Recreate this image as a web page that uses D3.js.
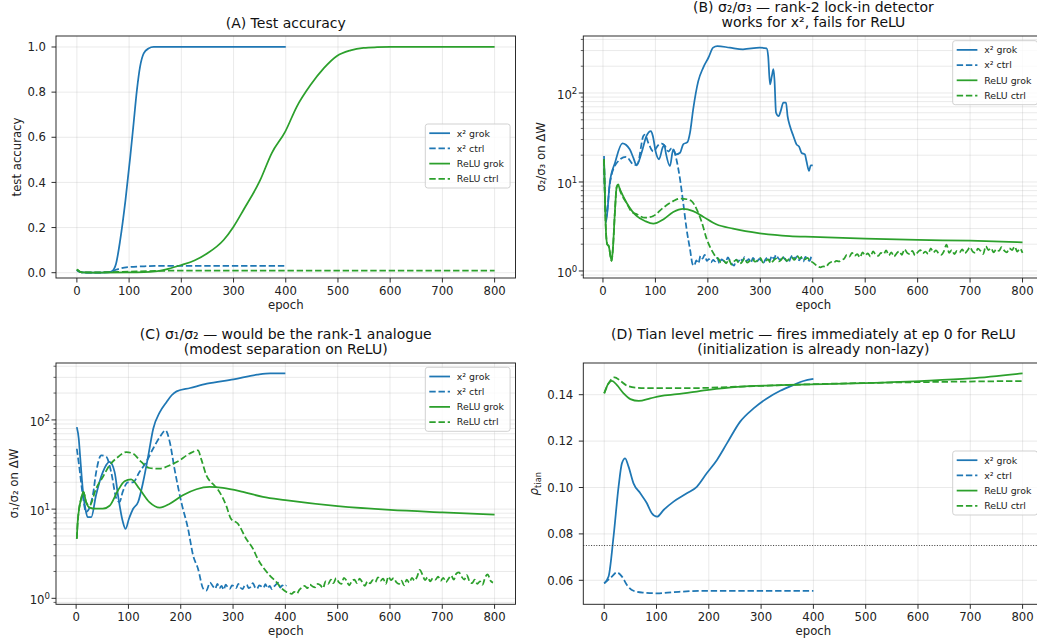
<!DOCTYPE html>
<html lang="en">
<head>
<meta charset="UTF-8">
<title>grokking diagnostics</title>
<script src="https://d3js.org/d3.v7.min.js"></script>
<style>
    body { margin: 0; padding: 0; background: #fff; }
    svg { display: block; font-family: "DejaVu Sans", sans-serif; }
</style>
</head>
<body>
<svg id="chart" width="1037" height="644"></svg>
<script>
    const BLUE = "#1f77b4", GREEN = "#2ca02c";
    const seriesNames = ["x² grok", "x² ctrl", "ReLU grok", "ReLU ctrl"];
    const xTicks = [0, 100, 200, 300, 400, 500, 600, 700, 800];

    // ---- (A) test accuracy ----
    const epA_x2grok = [0, 5, 10, 30, 60, 67, 75, 83, 93, 102, 108, 115, 121, 128, 137, 147, 200, 300, 400];
    const accA_x2grok = [0.012, 0.004, 0.001, 0.0, 0.001, 0.006, 0.04, 0.145, 0.32, 0.51, 0.647, 0.81, 0.913, 0.972, 0.993, 1.0, 1.0, 1.0, 1.0];
    const epA_x2ctrl = [0, 5, 10, 30, 60, 68, 75, 85, 100, 125, 150, 200, 300, 400];
    const accA_x2ctrl = [0.012, 0.004, 0.001, 0.0, 0.002, 0.006, 0.013, 0.02, 0.025, 0.028, 0.03, 0.03, 0.03, 0.03];
    const epA_relugrok = [0, 5, 10, 50, 100, 150, 175, 200, 225, 250, 281, 300, 319, 351, 373, 399, 421, 447, 473, 498, 524, 549, 575, 600, 700, 800];
    const accA_relugrok = [0.015, 0.005, 0.001, 0.0, 0.001, 0.006, 0.017, 0.034, 0.054, 0.086, 0.145, 0.204, 0.278, 0.41, 0.529, 0.625, 0.735, 0.83, 0.906, 0.96, 0.985, 0.996, 0.999, 1.0, 1.0, 1.0];
    const epA_reluctrl = [0, 5, 10, 50, 100, 150, 200, 400, 600, 800];
    const accA_reluctrl = [0.015, 0.005, 0.001, 0.002, 0.005, 0.008, 0.009, 0.009, 0.009, 0.009];
    const yTicksA = [0, 0.2, 0.4, 0.6, 0.8, 1.0];

    // ---- (B) sigma2/sigma3 ----
    const epB_x2grok = [2, 5.7, 13, 23, 37, 51, 58, 64, 73.6, 83, 91.5, 95, 101, 107, 113.7, 117, 120, 127.7, 134, 139, 147, 153, 161, 166, 172, 181.7, 191, 201, 210, 218, 242, 267, 299, 312, 315, 318.5, 322, 325, 327, 330, 335, 339, 344, 349, 352, 356.5, 363, 369, 374, 378.6, 385, 388, 393, 396, 400];
    const valB_x2grok = [19.6, 3.5, 9.8, 16.5, 27.2, 23.3, 18.7, 15.4, 21.3, 32.9, 37.4, 33, 21.3, 18, 24.3, 26, 21, 15.1, 23.3, 20.4, 21.3, 26.5, 28, 35.8, 65.6, 136, 192, 249, 323, 337, 323, 310, 323, 317, 260, 125, 155, 185, 142, 60, 55, 63, 78, 78, 55, 42.6, 32.9, 26.5, 25, 21.3, 20.4, 17.2, 13.3, 15.4, 15.4];
    const epB_x2ctrl = [2, 6, 13, 25, 44, 60, 66, 77, 80, 87, 96, 105.6, 112, 118, 125, 131, 136, 140, 147, 153, 159.5, 166, 171];
    const valB_x2ctrl = [18, 4, 9.5, 16, 19.2, 15.5, 16, 32.9, 34, 27, 22, 26, 27, 25.5, 22, 24, 22, 18, 10.7, 5.85, 2.94, 1.75, 1.19];
    const tailB_x2ctrl = [1.15, 1.32, 1.22, 1.48, 1.38, 1.52, 1.30, 1.36, 1.25, 1.33, 1.28, 1.40, 1.22, 1.35, 1.30, 1.26, 1.42, 1.31, 1.20, 1.15, 1.34, 1.27, 1.38, 1.30, 1.43, 1.29, 1.36, 1.25, 1.40, 1.32, 1.28, 1.37, 1.30, 1.24, 1.35, 1.42, 1.30, 1.48, 1.36, 1.52, 1.40, 1.33, 1.45, 1.38, 1.30, 1.25, 1.41, 1.50, 1.36, 1.46, 1.32, 1.42, 1.28, 1.44, 1.35, 1.30, 1.55]; // every 4 ep from 174
    const epB_relugrok = [2, 5, 8, 11, 16.5, 19, 23, 26, 29, 32.6, 45, 64, 80, 96, 115, 134, 153, 172, 191, 216, 248, 299, 356, 400, 500, 600, 700, 800];
    const valB_relugrok = [18, 3.5, 2.0, 1.9, 1.3, 1.8, 4.9, 8.6, 9.2, 8.2, 5.85, 4.15, 3.65, 3.4, 3.8, 4.6, 5.0, 4.7, 4.07, 3.35, 2.99, 2.65, 2.47, 2.42, 2.31, 2.23, 2.19, 2.1];
    const epB_reluctrl = [2, 5, 8, 11, 16.5, 19, 23, 26, 29, 32.6, 45, 55, 64, 80, 96, 115, 134, 147, 160, 169, 179, 188.6, 198, 208, 217];
    const valB_reluctrl = [18, 3.5, 2.0, 1.9, 1.3, 1.8, 4.9, 8.8, 9.4, 8.0, 5.8, 4.6, 4.35, 3.97, 4.15, 5.15, 6.1, 6.5, 6.4, 6.1, 4.9, 3.5, 2.27, 1.68, 1.41];
    const tailB_reluctrl = [1.38, 1.25, 1.30, 1.22, 1.35, 1.18, 1.28, 1.33, 1.20, 1.26, 1.38, 1.24, 1.30, 1.36, 1.27, 1.32, 1.40, 1.25, 1.29, 1.35, 1.22, 1.31, 1.38, 1.28, 1.34, 1.45, 1.30, 1.36, 1.42, 1.33, 1.48, 1.38, 1.44, 1.35, 1.40, 1.30, 1.25,
        1.18, 1.12, 1.10, 1.13, 1.11, 1.20, 1.26, 1.24, 1.30, 1.28, 1.33, 1.38, 1.52, 1.45,
        1.60, 1.48, 1.55, 1.42, 1.62, 1.50, 1.58, 1.45, 1.66, 1.52, 1.48, 1.60, 1.55, 1.70, 1.50, 1.62, 1.45, 1.58, 1.66, 1.52, 1.75, 1.60, 1.55, 1.68, 1.50, 1.62, 1.72, 1.58, 1.65, 1.55, 1.80, 1.62, 1.70, 1.58, 1.52, 1.66, 1.98, 1.60, 1.72, 1.55, 1.68, 1.62, 1.75, 1.58, 1.70, 1.85, 1.65, 1.60, 1.78, 1.68, 1.55, 1.90, 1.72, 1.80, 1.62, 1.75, 1.68, 1.85, 1.70, 1.62, 1.80, 1.72, 1.88, 1.65, 1.78, 1.60]; // every 5 ep from 220

    // ---- (C) sigma1/sigma2 ----
    const epC_x2grok = [1.3, 5, 7.5, 12.6, 17.7, 22, 29, 38, 51, 64, 73.6, 80, 89.3, 94.5, 101, 109, 118.5, 128, 138, 147.4, 160, 173, 182.6, 192, 218, 250, 301, 346, 371, 400];
    const valC_x2grok = [83, 61.5, 40, 16.9, 10.1, 8.15, 8.15, 14.3, 26, 33.8, 26, 14.3, 7.2, 6.0, 7.8, 10.1, 12, 20, 40, 79.7, 122, 159, 189, 209, 228, 255, 285, 321, 332, 332];
    const epC_x2ctrl = [1.3, 6.4, 12.6, 19, 31.9, 38.3, 48, 57.5, 67, 77, 83, 89, 99, 108.6, 121, 134, 147, 160, 171, 179, 188, 201, 214, 223.6, 233, 243, 249, 256];
    const valC_x2ctrl = [47.5, 28.4, 14.3, 9.3, 14.3, 26, 40, 38.7, 26, 13.1, 12, 15.6, 20, 20, 26, 33.8, 47.5, 64.3, 76.4, 56.5, 28.4, 12, 6.0, 3.03, 2.15, 1.28, 1.22, 1.5];
    const tailC_x2ctrl = [1.35, 1.28, 1.45, 1.30, 1.38, 1.25, 1.42, 1.33, 1.28, 1.40, 1.36, 1.30, 1.45, 1.32, 1.27, 1.38, 1.42, 1.30, 1.35, 1.48, 1.33, 1.28, 1.40, 1.36, 1.31, 1.44, 1.30, 1.38, 1.27, 1.35, 1.42, 1.50, 1.32, 1.40, 1.36]; // every 4 ep from 262
    const epC_relugrok = [1.3, 3, 9.6, 14, 19, 25.6, 38, 51, 64, 80, 92.6, 105, 121, 140, 160, 179, 204, 230, 255, 280.7, 319, 357, 400, 500, 600, 700, 800];
    const valC_relugrok = [4.66, 7.2, 13.1, 15.6, 12, 10.4, 10.1, 10.1, 10.9, 16.2, 20.5, 21.6, 16.9, 12, 10.4, 11.5, 14.3, 16.7, 17.7, 17.3, 15.6, 13.7, 12.6, 10.8, 9.8, 9.2, 8.7];
    const epC_reluctrl = [1.3, 3, 9.6, 14, 19, 25.6, 38, 51, 64, 80, 96, 108.6, 124.6, 140, 160, 179, 198, 217, 233, 239, 249, 258, 264, 274, 287, 296, 309, 325, 338, 347, 357, 370, 383, 392, 402];
    const valC_reluctrl = [4.66, 7.2, 13.1, 15.6, 12, 10.9, 16.9, 22.9, 31, 38.4, 43.6, 42, 33.8, 28.9, 28.4, 31, 35.3, 42, 45.6, 36.6, 23.9, 20, 18.5, 15.6, 10.9, 7.8, 6.9, 4.66, 3.6, 2.78, 2.24, 1.81, 1.52, 1.31, 1.18];
    const tailC_reluctrl = [1.15, 1.12, 1.18, 1.13, 1.25, 1.32, 1.38, 1.30, 1.42, 1.36, 1.33, 1.45, 1.40, 1.30, 1.55, 1.45, 1.62, 1.48, 1.68, 1.52, 1.45, 1.70, 1.58, 1.40, 1.55, 1.62, 1.48, 1.66, 1.52, 1.38, 1.55, 1.47, 1.60, 1.52, 1.72, 1.58, 1.66, 1.45, 1.75, 1.60, 1.68, 1.52, 1.45, 1.58, 1.40, 1.62, 1.50, 1.70, 1.58, 1.75, 2.08, 1.85, 1.60, 1.72, 1.55, 1.68, 1.62, 1.75, 1.58, 1.70, 1.52, 1.66, 1.80, 1.62, 1.90, 1.95, 1.75, 1.62, 1.82, 1.55, 1.48, 1.62, 1.45, 1.55, 1.42, 1.72, 1.85, 1.58, 1.50]; // every 5 ep from 407

    // ---- (D) Tian level metric ----
    const epD_x2grok = [0, 8.3, 17.8, 27.4, 33.8, 40, 46.5, 56, 69, 81.6, 91, 101, 113.5, 132.6, 158, 177, 196, 215.6, 234.6, 260, 285.6, 311, 336.6, 362, 381, 400];
    const valD_x2grok = [0.0587, 0.0616, 0.0788, 0.1003, 0.1104, 0.1126, 0.109, 0.1018, 0.0975, 0.0932, 0.0889, 0.0874, 0.0903, 0.0939, 0.0975, 0.1003, 0.1061, 0.1119, 0.119, 0.1284, 0.1341, 0.1384, 0.1417, 0.1442, 0.1459, 0.1468];
    const epD_x2ctrl = [0, 14.7, 24, 34, 43.4, 56, 75, 101, 133, 190, 400];
    const valD_x2ctrl = [0.0587, 0.0616, 0.0634, 0.0616, 0.058, 0.0555, 0.0547, 0.0544, 0.0549, 0.0555, 0.0555];
    const epD_relugrok = [0, 8.3, 14.7, 24, 37, 50, 66, 88, 107, 139, 196, 254, 350, 477, 605, 700, 800];
    const valD_relugrok = [0.1406, 0.1449, 0.146, 0.1442, 0.1406, 0.1381, 0.1373, 0.1384, 0.1394, 0.1402, 0.142, 0.1434, 0.1442, 0.1449, 0.1459, 0.147, 0.1492];
    const epD_reluctrl = [0, 10, 20, 30.6, 43.4, 62.5, 94, 158, 285.6, 413, 541, 669, 800];
    const valD_reluctrl = [0.1406, 0.1455, 0.1475, 0.146, 0.1439, 0.143, 0.1428, 0.1428, 0.1437, 0.1446, 0.1452, 0.1456, 0.1459];
    const yTicksD = [0.06, 0.08, 0.10, 0.12, 0.14];
    const thresholdD = 0.075;

    // build [epoch, value] pairs
    const pairs = (ep, vals) => ep.map((e, i) => [e, vals[i]]);
    const withTail = (ep, vals, start, step, tail) =>
        pairs(ep, vals).concat(tail.map((v, i) => [Math.min(start + i * step, 800), v]));

    const panels = [
        {
            id: "A", left: 56, right: 515.5, top: 36, bottom: 278,
            xDomain: [-40, 840], yDomain: [-0.0235, 1.0487], log: false,
            yTicks: yTicksA, yFmt: d3.format(".1f"),
            title: ["(A) Test accuracy"], ylabel: "test accuracy", ylabelX: 20.5,
            legend: [425.3, 124],
            series: [pairs(epA_x2grok, accA_x2grok), pairs(epA_x2ctrl, accA_x2ctrl),
                     pairs(epA_relugrok, accA_relugrok), pairs(epA_reluctrl, accA_reluctrl)]
        },
        {
            id: "B", left: 583.3, right: 1043.5, top: 36, bottom: 278,
            xDomain: [-37.5, 840], yDomain: [0.834, 437], log: true,
            title: ["(B) σ₂/σ₃ — rank-2 lock-in detector", "works for x², fails for ReLU"],
            ylabel: "σ₂/σ₃ on ΔW", ylabelX: 544.5,
            legend: [952.7, 40.7],
            series: [pairs(epB_x2grok, valB_x2grok), withTail(epB_x2ctrl, valB_x2ctrl, 174, 4, tailB_x2ctrl),
                     pairs(epB_relugrok, valB_relugrok), withTail(epB_reluctrl, valB_reluctrl, 220, 5, tailB_reluctrl)]
        },
        {
            id: "C", left: 56, right: 515.5, top: 363, bottom: 604.3,
            xDomain: [-38.5, 840], yDomain: [0.857, 434.5], log: true,
            title: ["(C) σ₁/σ₂ — would be the rank-1 analogue", "(modest separation on ReLU)"],
            ylabel: "σ₁/σ₂ on ΔW", ylabelX: 18,
            legend: [425.3, 367.3],
            series: [pairs(epC_x2grok, valC_x2grok), withTail(epC_x2ctrl, valC_x2ctrl, 262, 4, tailC_x2ctrl.concat([1.4])),
                     pairs(epC_relugrok, valC_relugrok), withTail(epC_reluctrl, valC_reluctrl, 407, 5, tailC_reluctrl)]
        },
        {
            id: "D", left: 583.3, right: 1043.5, top: 363, bottom: 604.3,
            xDomain: [-40, 840], yDomain: [0.04966, 0.15366], log: false,
            yTicks: yTicksD, yFmt: d3.format(".2f"),
            title: ["(D) Tian level metric — fires immediately at ep 0 for ReLU", "(initialization is already non-lazy)"],
            ylabel: null, ylabelX: 538,
            legend: [952.7, 451], hline: thresholdD,
            series: [pairs(epD_x2grok, valD_x2grok), pairs(epD_x2ctrl, valD_x2ctrl),
                     pairs(epD_relugrok, valD_relugrok), pairs(epD_reluctrl, valD_reluctrl)]
        }
    ];

    const styles = [
        { color: BLUE, dash: null }, { color: BLUE, dash: "6.4,2.8" },
        { color: GREEN, dash: null }, { color: GREEN, dash: "6.4,2.8" }
    ];

    const svg = d3.select("#chart");
    svg.append("rect").attr("width", 1037).attr("height", 644).attr("fill", "#fff");
    const defs = svg.append("defs");

    panels.forEach(p => {
        const g = svg.append("g");
        const x = d3.scaleLinear().domain(p.xDomain).range([p.left, p.right]);
        const y = (p.log ? d3.scaleLog() : d3.scaleLinear()).domain(p.yDomain).range([p.bottom, p.top]);

        defs.append("clipPath").attr("id", "clip" + p.id)
            .append("rect").attr("x", p.left).attr("y", p.top)
            .attr("width", p.right - p.left).attr("height", p.bottom - p.top);

        // y ticks: majors and (for log) minors
        let yMajor, yMinor = [];
        if (p.log) {
            const all = y.ticks();
            yMajor = all.filter(v => Math.abs(Math.log10(v) - Math.round(Math.log10(v))) < 1e-9);
            yMinor = all.filter(v => !yMajor.includes(v));
        } else {
            yMajor = p.yTicks;
        }

        // grid
        const grid = g.append("g").attr("stroke", "#b0b0b0").attr("stroke-opacity", 0.3).attr("stroke-width", 0.9);
        grid.selectAll(".gx").data(xTicks).join("line")
            .attr("x1", d => x(d)).attr("x2", d => x(d)).attr("y1", p.top).attr("y2", p.bottom);
        grid.selectAll(".gy").data(yMajor.concat(yMinor)).join("line")
            .attr("x1", p.left).attr("x2", p.right).attr("y1", d => y(d)).attr("y2", d => y(d));

        // series lines
        const line = d3.line().x(d => x(d[0])).y(d => y(d[1])).curve(d3.curveMonotoneX);
        const lines = g.append("g").attr("clip-path", `url(#clip${p.id})`);
        p.series.forEach((s, i) => {
            lines.append("path").datum(s)
                .attr("d", line)
                .attr("fill", "none")
                .attr("stroke", styles[i].color)
                .attr("stroke-width", 1.75)
                .attr("stroke-linejoin", "round")
                .attr("stroke-dasharray", styles[i].dash);
        });

        if (p.hline != null) {
            g.append("line")
                .attr("x1", p.left).attr("x2", p.right)
                .attr("y1", y(p.hline)).attr("y2", y(p.hline))
                .attr("stroke", "#222").attr("stroke-width", 0.9)
                .attr("stroke-dasharray", "1,1.6");
        }

        // spines
        g.append("rect").attr("x", p.left).attr("y", p.top)
            .attr("width", p.right - p.left).attr("height", p.bottom - p.top)
            .attr("fill", "none").attr("stroke", "#222").attr("stroke-width", 0.95);

        // x ticks
        const xt = g.append("g");
        xt.selectAll("line").data(xTicks).join("line")
            .attr("x1", d => x(d)).attr("x2", d => x(d))
            .attr("y1", p.bottom).attr("y2", p.bottom + 4.5)
            .attr("stroke", "#222").attr("stroke-width", 0.95);
        xt.selectAll("text").data(xTicks).join("text")
            .attr("x", d => x(d)).attr("y", p.bottom + 17)
            .attr("text-anchor", "middle").attr("font-size", 11.7).attr("fill", "#222")
            .text(d => d);
        g.append("text").attr("x", (p.left + Math.min(p.right, 1043.5)) / 2).attr("y", p.bottom + 31)
            .attr("text-anchor", "middle").attr("font-size", 11.7).attr("fill", "#222")
            .text("epoch");

        // y ticks
        const yt = g.append("g");
        yt.selectAll(".maj").data(yMajor).join("line")
            .attr("x1", p.left - 4.5).attr("x2", p.left)
            .attr("y1", d => y(d)).attr("y2", d => y(d))
            .attr("stroke", "#222").attr("stroke-width", 0.95);
        yt.selectAll(".min").data(yMinor).join("line")
            .attr("x1", p.left - 2.5).attr("x2", p.left)
            .attr("y1", d => y(d)).attr("y2", d => y(d))
            .attr("stroke", "#222").attr("stroke-width", 0.7);
        if (p.log) {
            yMajor.forEach(v => {
                const t = yt.append("text")
                    .attr("x", p.left - 6).attr("y", y(v) + 5.6)
                    .attr("text-anchor", "end").attr("font-size", 11.7).attr("fill", "#222");
                t.append("tspan").text("10");
                t.append("tspan").attr("dy", -5).attr("font-size", 8.6).text(Math.round(Math.log10(v)));
            });
        } else {
            yt.selectAll("text").data(yMajor).join("text")
                .attr("x", p.left - 10).attr("y", d => y(d) + 4.2)
                .attr("text-anchor", "end").attr("font-size", 11.7).attr("fill", "#222")
                .text(d => p.yFmt(d));
        }

        // y label
        const cy = (p.top + p.bottom) / 2;
        const yl = g.append("text")
            .attr("transform", `translate(${p.ylabelX},${cy}) rotate(-90)`)
            .attr("text-anchor", "middle").attr("font-size", 11.7).attr("fill", "#222");
        if (p.ylabel) {
            yl.text(p.ylabel);
        } else {
            yl.append("tspan").attr("font-style", "italic").text("ρ");
            yl.append("tspan").attr("font-size", 8.4).attr("dy", 2.5).text("tian");
        }

        // title
        const cx = (p.left + p.right) / 2;
        const base = p.title.length === 1 ? [27.5] : [11.7, 27.3];
        const offsetY = p.top < 100 ? 0 : 327;
        p.title.forEach((t, i) => {
            g.append("text").attr("x", cx).attr("y", base[i] + offsetY)
                .attr("text-anchor", "middle").attr("font-size", 14).attr("fill", "#111")
                .text(t);
        });

        // legend
        const [lx, ly] = p.legend;
        const lg = g.append("g").attr("transform", `translate(${lx},${ly})`);
        lg.append("rect").attr("width", 84.8).attr("height", 64).attr("rx", 2.5)
            .attr("fill", "#fff").attr("fill-opacity", 0.8)
            .attr("stroke", "#cccccc").attr("stroke-width", 0.9);
        const rowY = [9.2, 24.4, 39.6, 54.8];
        seriesNames.forEach((name, i) => {
            lg.append("line").attr("x1", 4).attr("x2", 24.7).attr("y1", rowY[i]).attr("y2", rowY[i])
                .attr("stroke", styles[i].color).attr("stroke-width", 1.75)
                .attr("stroke-dasharray", styles[i].dash);
            lg.append("text").attr("x", 31.5).attr("y", rowY[i] + 3.4)
                .attr("font-size", 9.4).attr("fill", "#222").text(name);
        });
    });
</script>
</body>
</html>
